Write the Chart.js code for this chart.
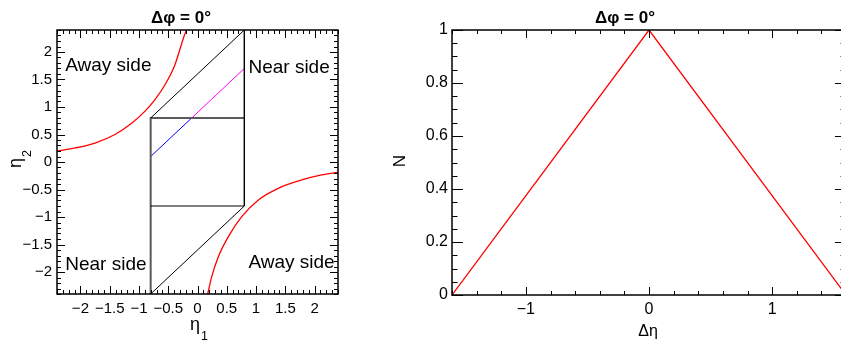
<!DOCTYPE html>
<html>
<head>
<meta charset="utf-8">
<script src="https://cdn.jsdelivr.net/npm/chart.js@4.4.0/dist/chart.umd.min.js"></script>
<style>
  html, body { margin: 0; padding: 0; background: #fff; overflow: hidden; }
  #wrap { position: relative; width: 841px; height: 347px; overflow: hidden; }
  #left { position: absolute; left: 0; top: 0; }
  #right { position: absolute; left: 370px; top: 0; }
</style>
</head>
<body>
<div id="wrap">
  <canvas id="left" width="370" height="347"></canvas>
  <canvas id="right" width="500" height="347"></canvas>
</div>
<script>
// ---- eta1 vs eta2 acceptance (left pad) ----
// black outline: upper diagonal, right edge, lower diagonal
const boxOuter = [[-0.8, 0.8], [0.8, 2.4], [0.8, -0.8], [-0.8, -2.4]];
const boxLower = [[-0.8, -0.8], [0.8, -0.8]];
// grey edges: left side and top of the |eta| < 0.8 square
const boxInner = [[-0.8, -2.4], [-0.8, 0.8], [0.8, 0.8]];
// one pair with fixed delta eta, inside (blue) and outside (magenta) the square
const pairIn = [[-0.8, 0.1], [-0.1, 0.8]];
const pairOut = [[-0.1, 0.8], [0.8, 1.7]];
// away side boundary curves
const awayUpper = [[-2.4, 0.2], [-2.09, 0.255], [-1.75, 0.345], [-1.41, 0.5], [-1.12, 0.71],
                   [-0.9, 0.92], [-0.73, 1.13], [-0.555, 1.405], [-0.385, 1.77], [-0.24, 2.255], [-0.19, 2.4]];
const awayLower = [[0.174, -2.4], [0.243, -2.085], [0.356, -1.722], [0.527, -1.358], [0.755, -0.994],
                   [1.04, -0.69], [1.38, -0.478], [1.78, -0.327], [2.12, -0.236], [2.4, -0.185]];
const sideLabels = [
  { text: 'Away side', x: -2.26, y: 1.65 },
  { text: 'Near side', x: 0.87, y: 1.62 },
  { text: 'Near side', x: -2.26, y: -1.96 },
  { text: 'Away side', x: 0.87, y: -1.93 }
];

// ---- N vs delta eta (right pad) ----
const dEta = [-1.6, 0, 1.6];
const nPairs = [0, 1, 0];

const FONT = "'Liberation Sans', Arial, Helvetica, sans-serif";
const toXY = arr => arr.map(p => ({ x: p[0], y: p[1] }));
const fmt = v => {
  const r = Math.round(v * 100) / 100;
  return r < 0 ? '\u2212' + (-r) : String(r);
};

function line(data, color, width) {
  return { data: data, showLine: true, borderColor: color, borderWidth: width,
           pointRadius: 0, fill: false, tension: 0 };
}

// ROOT style frame with ticks drawn inward on all four sides
function frameTicks(cfg) {
  return {
    id: 'frameTicks',
    afterDatasetsDraw(chart) {
      const { ctx, chartArea: a, scales } = chart;
      ctx.save();
      ctx.strokeStyle = '#000';
      ctx.lineWidth = 1;
      ctx.beginPath();
      ['x', 'y'].forEach(k => {
        const s = scales[k], c = cfg[k];
        const n = Math.round((s.max - s.min) / c.minor);
        for (let i = 0; i <= n; i++) {
          const v = s.min + i * c.minor;
          const q = v / c.major;
          const len = Math.abs(q - Math.round(q)) < 1e-6 ? c.longLen : c.shortLen;
          const p = Math.round(s.getPixelForValue(v)) + 0.5;
          if (k === 'x') {
            ctx.moveTo(p, a.bottom); ctx.lineTo(p, a.bottom - len);
            ctx.moveTo(p, a.top); ctx.lineTo(p, a.top + len);
          } else {
            ctx.moveTo(a.left, p); ctx.lineTo(a.left + len, p);
            ctx.moveTo(a.right, p); ctx.lineTo(a.right - len, p);
          }
        }
      });
      ctx.stroke();
      ctx.lineWidth = 1.5;
      ctx.strokeRect(a.left, a.top, a.right - a.left, a.bottom - a.top);
      ctx.restore();
    }
  };
}

// titles, axis titles and in-plot labels
function texts(cfg) {
  return {
    id: 'texts',
    afterDraw(chart) {
      const ctx = chart.ctx;
      ctx.save();
      ctx.fillStyle = '#000';
      ctx.textBaseline = 'alphabetic';
      cfg.items.forEach(t => {
        ctx.save();
        ctx.translate(t.x, t.y);
        if (t.rotate) ctx.rotate(-Math.PI / 2);
        ctx.font = t.font;
        ctx.textAlign = t.align || 'left';
        ctx.fillText(t.text, 0, 0);
        if (t.sub) {
          const w = ctx.measureText(t.text).width;
          ctx.font = t.subFont;
          ctx.textAlign = 'left';
          ctx.fillText(t.sub, w + 1, t.subDy);
        }
        ctx.restore();
      });
      if (cfg.labels) {
        const xs = chart.scales.x, ys = chart.scales.y;
        ctx.font = cfg.labelFont;
        ctx.textAlign = 'left';
        cfg.labels.forEach(l => {
          ctx.fillText(l.text, xs.getPixelForValue(l.x), ys.getPixelForValue(l.y));
        });
      }
      ctx.restore();
    }
  };
}

function axis(min, max, step, size, fit, pad) {
  return {
    type: 'linear', min: min, max: max,
    afterFit: fit,
    grid: { display: false, drawTicks: false },
    border: { display: false },
    ticks: { stepSize: step, includeBounds: false, padding: pad, color: '#000',
             autoSkip: false, maxRotation: 0, font: { family: FONT, size: size },
             callback: fmt }
  };
}

new Chart(document.getElementById('left'), {
  type: 'scatter',
  data: {
    datasets: [
      line(toXY(boxOuter), '#000', 1),
      line(toXY(boxLower), '#000', 1),
      line(toXY(boxInner), '#5a5a5a', 2),
      line(toXY(pairIn), '#0000ff', 1),
      line(toXY(pairOut), '#ff00ff', 1),
      Object.assign(line(toXY(awayUpper), '#ff0000', 1.3), { cubicInterpolationMode: 'monotone' }),
      Object.assign(line(toXY(awayLower), '#ff0000', 1.3), { cubicInterpolationMode: 'monotone' })
    ]
  },
  options: {
    responsive: false,
    animation: false,
    layout: { padding: { left: 0, top: 30, right: 32, bottom: 33 } },
    scales: {
      x: axis(-2.4, 2.4, 0.5, 15, s => { s.height = 20; }, 6),
      y: axis(-2.4, 2.4, 0.5, 15, s => { s.width = 57; }, 5)
    },
    plugins: { legend: { display: false }, tooltip: { enabled: false } }
  },
  plugins: [
    frameTicks({ x: { minor: 0.1, major: 0.5, longLen: 8, shortLen: 4 },
                 y: { minor: 0.1, major: 0.5, longLen: 8, shortLen: 4 } }),
    texts({
      items: [
        { text: '\u0394\u03c6 = 0\u00b0', x: 181, y: 22.5, font: 'bold 17px ' + FONT, align: 'center' },
        { text: '\u03b7', x: 190, y: 329.5, font: '18px ' + FONT, sub: '1', subFont: '12.5px ' + FONT, subDy: 10 },
        { text: '\u03b7', x: 21, y: 168, rotate: true, font: '18px ' + FONT, sub: '2', subFont: '12.5px ' + FONT, subDy: 10 }
      ],
      labels: sideLabels,
      labelFont: '19px ' + FONT
    })
  ]
});

new Chart(document.getElementById('right'), {
  type: 'scatter',
  data: {
    datasets: [line(dEta.map((v, i) => ({ x: v, y: nPairs[i] })), '#ff0000', 1.3)]
  },
  options: {
    responsive: false,
    animation: false,
    layout: { padding: { left: 0, top: 30, right: 24, bottom: 32 } },
    scales: {
      x: axis(-1.6, 1.6, 1, 16, s => { s.height = 20; }, 5),
      y: axis(0, 1, 0.2, 16, s => { s.width = 82; }, 4)
    },
    plugins: { legend: { display: false }, tooltip: { enabled: false } }
  },
  plugins: [
    frameTicks({ x: { minor: 0.2, major: 1, longLen: 8, shortLen: 4 },
                 y: { minor: 0.05, major: 0.2, longLen: 11, shortLen: 5.5 } }),
    texts({
      items: [
        { text: '\u0394\u03c6 = 0\u00b0', x: 255, y: 22.5, font: 'bold 17px ' + FONT, align: 'center' },
        { text: '\u0394\u03b7', x: 278, y: 336, font: '16px ' + FONT, align: 'center' },
        { text: 'N', x: 35, y: 161, rotate: true, font: '17px ' + FONT, align: 'center' }
      ]
    })
  ]
});
</script>
</body>
</html>
